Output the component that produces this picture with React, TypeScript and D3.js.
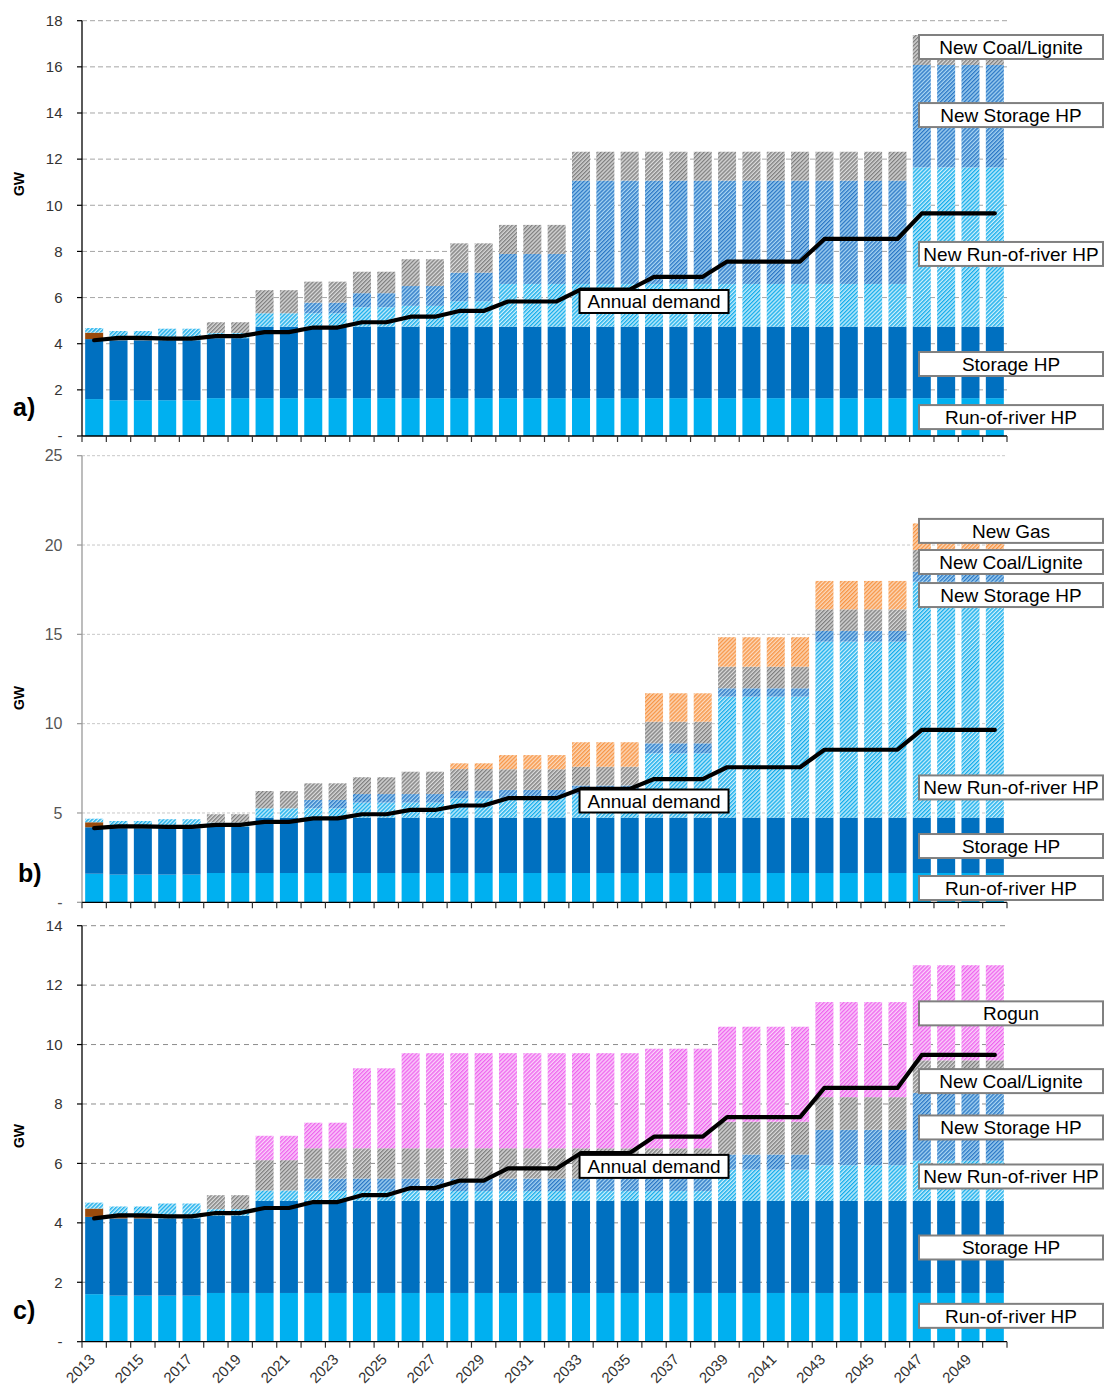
import React from 'react';
import * as d3 from 'd3';

// ---------- DATA ----------
const years = [2013, 2014, 2015, 2016, 2017, 2018, 2019, 2020, 2021, 2022, 2023, 2024, 2025, 2026, 2027, 2028, 2029, 2030, 2031, 2032, 2033, 2034, 2035, 2036, 2037, 2038, 2039, 2040, 2041, 2042, 2043, 2044, 2045, 2046, 2047, 2048, 2049, 2050];

const runOfRiver = [1.6, 1.55, 1.55, 1.55, 1.55, 1.64, 1.64, 1.64, 1.64, 1.64, 1.64, 1.64, 1.64, 1.64, 1.64, 1.64, 1.64, 1.64, 1.64, 1.64, 1.64, 1.64, 1.64, 1.64, 1.64, 1.64, 1.64, 1.64, 1.64, 1.64, 1.64, 1.64, 1.64, 1.64, 1.64, 1.64, 1.64, 1.64];
const storageHP = [2.6, 2.6, 2.6, 2.6, 2.6, 2.6, 2.6, 3.1, 3.1, 3.1, 3.1, 3.1, 3.1, 3.1, 3.1, 3.1, 3.1, 3.1, 3.1, 3.1, 3.1, 3.1, 3.1, 3.1, 3.1, 3.1, 3.1, 3.1, 3.1, 3.1, 3.1, 3.1, 3.1, 3.1, 3.1, 3.1, 3.1, 3.1];
const existingThermal = [0.28, 0.06, 0.06, 0, 0, 0, 0, 0, 0, 0, 0, 0, 0, 0, 0, 0, 0, 0, 0, 0, 0, 0, 0, 0, 0, 0, 0, 0, 0, 0, 0, 0, 0, 0, 0, 0, 0, 0];
const annualDemand = [4.15, 4.25, 4.25, 4.22, 4.22, 4.33, 4.33, 4.5, 4.5, 4.7, 4.7, 4.93, 4.93, 5.17, 5.17, 5.42, 5.42, 5.83, 5.83, 5.83, 6.35, 6.35, 6.35, 6.9, 6.9, 6.9, 7.56, 7.56, 7.56, 7.56, 8.54, 8.54, 8.54, 8.54, 9.65, 9.65, 9.65, 9.65];

// panel a
const newRoRA = [0.2, 0.34, 0.34, 0.5, 0.5, 0.22, 0.22, 0.58, 0.58, 0.58, 0.58, 0.84, 0.84, 0.9, 0.9, 1.1, 1.1, 1.85, 1.85, 1.85, 1.85, 1.85, 1.85, 1.85, 1.85, 1.85, 1.85, 1.85, 1.85, 1.85, 1.85, 1.85, 1.85, 1.85, 6.9, 6.9, 6.9, 6.9];
const newStorageA = [0, 0, 0, 0, 0, 0, 0, 0, 0, 0.46, 0.46, 0.61, 0.61, 0.86, 0.86, 1.24, 1.24, 1.3, 1.3, 1.3, 4.48, 4.48, 4.48, 4.48, 4.48, 4.48, 4.48, 4.48, 4.48, 4.48, 4.48, 4.48, 4.48, 4.48, 4.44, 4.44, 4.44, 4.44];
const newCoalA = [0, 0, 0, 0, 0, 0.47, 0.47, 1.0, 1.0, 0.91, 0.91, 0.93, 0.93, 1.16, 1.16, 1.27, 1.27, 1.26, 1.26, 1.26, 1.25, 1.25, 1.25, 1.25, 1.25, 1.25, 1.25, 1.25, 1.25, 1.25, 1.25, 1.25, 1.25, 1.25, 1.3, 1.3, 1.3, 1.3];

// panel b
const newRoRB = [0.2, 0.34, 0.34, 0.5, 0.5, 0.22, 0.22, 0.52, 0.52, 0.52, 0.52, 0.84, 0.84, 0.84, 0.84, 1.08, 1.08, 1.1, 1.1, 1.1, 1.3, 1.3, 1.3, 3.6, 3.6, 3.6, 6.77, 6.77, 6.77, 6.77, 9.85, 9.85, 9.85, 9.85, 13.2, 13.2, 13.2, 13.2];
const newStorageB = [0, 0, 0, 0, 0, 0, 0, 0, 0, 0.47, 0.47, 0.48, 0.48, 0.48, 0.48, 0.43, 0.43, 0.45, 0.45, 0.45, 0.5, 0.5, 0.5, 0.56, 0.56, 0.56, 0.47, 0.47, 0.47, 0.47, 0.6, 0.6, 0.6, 0.6, 0.56, 0.56, 0.56, 0.56];
const newCoalB = [0, 0, 0, 0, 0, 0.47, 0.47, 0.97, 0.97, 0.93, 0.93, 0.94, 0.94, 1.25, 1.25, 1.21, 1.21, 1.16, 1.16, 1.16, 1.05, 1.05, 1.05, 1.21, 1.21, 1.21, 1.21, 1.21, 1.21, 1.21, 1.21, 1.21, 1.21, 1.21, 1.22, 1.22, 1.22, 1.22];
const newGasB = [0, 0, 0, 0, 0, 0, 0, 0, 0, 0, 0, 0, 0, 0, 0, 0.32, 0.32, 0.79, 0.79, 0.79, 1.37, 1.37, 1.37, 1.59, 1.59, 1.59, 1.65, 1.65, 1.65, 1.65, 1.59, 1.59, 1.59, 1.59, 1.49, 1.49, 1.49, 1.49];

// panel c
const newRoRC = [0.2, 0.34, 0.34, 0.5, 0.5, 0.22, 0.22, 0.35, 0.35, 0.33, 0.33, 0.33, 0.33, 0.33, 0.33, 0.33, 0.33, 0.33, 0.33, 0.33, 0.33, 0.33, 0.33, 0.33, 0.33, 0.33, 1.05, 1.05, 1.05, 1.05, 1.2, 1.2, 1.2, 1.2, 1.35, 1.35, 1.35, 1.35];
const newStorageC = [0, 0, 0, 0, 0, 0, 0, 0, 0, 0.42, 0.42, 0.42, 0.42, 0.42, 0.42, 0.42, 0.42, 0.42, 0.42, 0.42, 0.42, 0.42, 0.42, 0.42, 0.42, 0.42, 0.51, 0.51, 0.51, 0.51, 1.19, 1.19, 1.19, 1.19, 2.28, 2.28, 2.28, 2.28];
const newCoalC = [0, 0, 0, 0, 0, 0.47, 0.47, 1.02, 1.02, 1.02, 1.02, 1.02, 1.02, 1.02, 1.02, 1.02, 1.02, 1.02, 1.02, 1.02, 1.02, 1.02, 1.02, 1.02, 1.02, 1.02, 1.1, 1.1, 1.1, 1.1, 1.1, 1.1, 1.1, 1.1, 1.1, 1.1, 1.1, 1.1];
const rogunC = [0, 0, 0, 0, 0, 0, 0, 0.82, 0.82, 0.86, 0.86, 2.69, 2.69, 3.2, 3.2, 3.2, 3.2, 3.2, 3.2, 3.2, 3.2, 3.2, 3.2, 3.35, 3.35, 3.35, 3.2, 3.2, 3.2, 3.2, 3.2, 3.2, 3.2, 3.2, 3.2, 3.2, 3.2, 3.2];

const ticksA = [0, 2, 4, 6, 8, 10, 12, 14, 16, 18];
const ticksB = [0, 5, 10, 15, 20, 25];
const ticksC = [0, 2, 4, 6, 8, 10, 12, 14];

const labelsA = [
  { text: 'New Coal/Lignite', v: 16.86 },
  { text: 'New Storage HP', v: 13.91 },
  { text: 'New Run-of-river HP', v: 7.89 },
  { text: 'Storage HP', v: 3.12 },
  { text: 'Run-of-river HP', v: 0.82 },
];
const labelsB = [
  { text: 'New Gas', v: 20.79 },
  { text: 'New Coal/Lignite', v: 19.05 },
  { text: 'New Storage HP', v: 17.2 },
  { text: 'New Run-of-river HP', v: 6.43 },
  { text: 'Storage HP', v: 3.15 },
  { text: 'Run-of-river HP', v: 0.8 },
];
const labelsC = [
  { text: 'Rogun', v: 11.05 },
  { text: 'New Coal/Lignite', v: 8.77 },
  { text: 'New Storage HP', v: 7.21 },
  { text: 'New Run-of-river HP', v: 5.56 },
  { text: 'Storage HP', v: 3.17 },
  { text: 'Run-of-river HP', v: 0.87 },
];
const demandLabelValues = [5.83, 5.67, 5.9];
const demandLabelYear = 2036;

// ---------- STYLE / LAYOUT ----------
const FONT = "'Liberation Sans', Arial, sans-serif";
const X0 = 82;
const X1 = 1007;

const patterns = [
  { id: 'pNewRoR', stripe: '#16ADEB', bg: '#CDEFFC' },
  { id: 'pNewSto', stripe: '#2C78C6', bg: '#A6D4F2' },
  { id: 'pCoal', stripe: '#808080', bg: '#DADADA' },
  { id: 'pGas', stripe: '#F79646', bg: '#FCD9BC' },
  { id: 'pRogun', stripe: '#EE66EE', bg: '#FAD2FA' },
];

const fills: Record<string, string> = {
  ror: '#00B0F0',
  sto: '#0070C0',
  thermal: '#9A4A0C',
  newRoR: 'url(#pNewRoR)',
  newSto: 'url(#pNewSto)',
  coal: 'url(#pCoal)',
  gas: 'url(#pGas)',
  rogun: 'url(#pRogun)',
};

type Series = { key: string; values: number[] };
type PanelCfg = {
  letter: string;
  yTop: number;
  y0: number;
  yMax: number;
  ticks: number[];
  series: Series[];
  labels: { text: string; v: number }[];
  demandLabelV: number;
  gridColor: string;
  gridDash: string;
  yAxisColor: string;
  tickTextColor: string;
  tickFont: number;
  letterPos: [number, number];
  gwY: number;
  showYears: boolean;
};

const panels: PanelCfg[] = [
  {
    letter: 'a)', yTop: 20.7, y0: 436, yMax: 18, ticks: ticksA,
    series: [
      { key: 'ror', values: runOfRiver }, { key: 'sto', values: storageHP }, { key: 'thermal', values: existingThermal },
      { key: 'newRoR', values: newRoRA }, { key: 'newSto', values: newStorageA }, { key: 'coal', values: newCoalA },
    ],
    labels: labelsA, demandLabelV: demandLabelValues[0],
    gridColor: '#A6A6A6', gridDash: '5,3', yAxisColor: '#000', tickTextColor: '#333', tickFont: 15,
    letterPos: [13, 416], gwY: 184, showYears: false,
  },
  {
    letter: 'b)', yTop: 455.7, y0: 902.3, yMax: 25, ticks: ticksB,
    series: [
      { key: 'ror', values: runOfRiver }, { key: 'sto', values: storageHP }, { key: 'thermal', values: existingThermal },
      { key: 'newRoR', values: newRoRB }, { key: 'newSto', values: newStorageB }, { key: 'coal', values: newCoalB },
      { key: 'gas', values: newGasB },
    ],
    labels: labelsB, demandLabelV: demandLabelValues[1],
    gridColor: '#C8C8C8', gridDash: '3,2', yAxisColor: '#999', tickTextColor: '#555', tickFont: 16,
    letterPos: [18, 882], gwY: 698, showYears: false,
  },
  {
    letter: 'c)', yTop: 925.7, y0: 1341.7, yMax: 14, ticks: ticksC,
    series: [
      { key: 'ror', values: runOfRiver }, { key: 'sto', values: storageHP }, { key: 'thermal', values: existingThermal },
      { key: 'newRoR', values: newRoRC }, { key: 'newSto', values: newStorageC }, { key: 'coal', values: newCoalC },
      { key: 'rogun', values: rogunC },
    ],
    labels: labelsC, demandLabelV: demandLabelValues[2],
    gridColor: '#8C8C8C', gridDash: '5,4', yAxisColor: '#000', tickTextColor: '#333', tickFont: 15,
    letterPos: [13, 1319], gwY: 1136, showYears: true,
  },
];

function Panel({ cfg }: { cfg: PanelCfg }) {
  const x = d3.scaleBand<number>().domain(years).range([X0, X1]).paddingInner(0.26).paddingOuter(0.13);
  const y = d3.scaleLinear().domain([0, cfg.yMax]).range([cfg.y0, cfg.yTop]);
  const keys = cfg.series.map((s) => s.key);
  const rows = years.map((yr, i) => {
    const r: Record<string, number> = { year: yr };
    cfg.series.forEach((s) => (r[s.key] = s.values[i]));
    return r;
  });
  const stacked = d3.stack<Record<string, number>>().keys(keys)(rows);
  const bw = x.bandwidth();
  const half = (x.step() - bw) / 2;
  const cx = (yr: number) => (x(yr) as number) + bw / 2;
  const line = d3.line<number>().x((_, i) => cx(years[i])).y((d) => y(d));
  const boundaries = years.map((yr) => (x(yr) as number) - half).concat([X1]);

  return (
    <g>
      {cfg.ticks.filter((t) => t > 0).map((t) => (
        <line key={'g' + t} x1={X0} x2={X1} y1={y(t)} y2={y(t)} stroke={cfg.gridColor} strokeDasharray={cfg.gridDash} strokeWidth={1} />
      ))}
      {stacked.map((layer) => (
        <g key={layer.key} fill={fills[layer.key]}>
          {layer.map((d, i) =>
            d[1] - d[0] > 0 ? (
              <rect key={i} x={x(years[i])} width={bw} y={y(d[1])} height={y(d[0]) - y(d[1])} />
            ) : null
          )}
        </g>
      ))}
      <line x1={X0} x2={X0} y1={cfg.yTop} y2={cfg.y0} stroke={cfg.yAxisColor} strokeWidth={1.3} />
      {cfg.ticks.map((t) => (
        <g key={'t' + t}>
          <line x1={X0 - 5} x2={X0} y1={y(t)} y2={y(t)} stroke={cfg.yAxisColor} strokeWidth={1.2} />
          <text x={62.5} y={y(t)} dy="0.35em" textAnchor="end" fontSize={cfg.tickFont} fill={cfg.tickTextColor} fontFamily={FONT}>
            {t === 0 ? '-' : t}
          </text>
        </g>
      ))}
      <line x1={X0} x2={X1} y1={cfg.y0} y2={cfg.y0} stroke="#000" strokeWidth={1.3} />
      {boundaries.map((b, i) => (
        <line key={'xb' + i} x1={b} x2={b} y1={cfg.y0} y2={cfg.y0 + 6} stroke="#333" strokeWidth={1.2} />
      ))}
      {cfg.showYears &&
        years.filter((_, i) => i % 2 === 0).map((yr) => (
          <text key={'yl' + yr} transform={`translate(${cx(yr) - 2},${cfg.y0 + 15}) rotate(-45)`} textAnchor="end" dy="0.35em" fontSize={15} fill="#333" fontFamily={FONT}>
            {yr}
          </text>
        ))}
      <path d={line(annualDemand) as string} fill="none" stroke="#000" strokeWidth={4.2} strokeLinejoin="round" strokeLinecap="round" />
      <rect x={cx(demandLabelYear) - 74.5} y={y(cfg.demandLabelV) - 11.5} width={149} height={23} fill="#fff" stroke="#000" strokeWidth={2} />
      <text x={cx(demandLabelYear)} y={y(cfg.demandLabelV)} dy="0.36em" textAnchor="middle" fontSize={19} fontFamily={FONT} fill="#000">
        Annual demand
      </text>
      {cfg.labels.map((l) => (
        <g key={l.text}>
          <rect x={919} y={y(l.v) - 12} width={184} height={24} fill="#fff" stroke="#808080" strokeWidth={2} />
          <text x={1011} y={y(l.v)} dy="0.36em" textAnchor="middle" fontSize={19} fontFamily={FONT} fill="#000">
            {l.text}
          </text>
        </g>
      ))}
      <text transform={`translate(19,${cfg.gwY}) rotate(-90)`} textAnchor="middle" dy="0.35em" fontSize={14} fontWeight="bold" fontFamily={FONT} fill="#000">
        GW
      </text>
      <text x={cfg.letterPos[0]} y={cfg.letterPos[1]} fontSize={25} fontWeight="bold" fontFamily={FONT} fill="#000">
        {cfg.letter}
      </text>
    </g>
  );
}

export default function App() {
  return (
    <div style={{ position: 'absolute', left: 0, top: 0 }}>
      <svg width={1104} height={1389} style={{ display: 'block', background: '#fff' }}>
        <defs>
          {patterns.map((p) => (
            <pattern key={p.id} id={p.id} patternUnits="userSpaceOnUse" width={2.8} height={2.8} patternTransform="rotate(45)">
              <rect width={2.8} height={2.8} fill={p.bg} />
              <rect width={1.4} height={2.8} fill={p.stripe} />
            </pattern>
          ))}
        </defs>
        {panels.map((p) => (
          <Panel key={p.letter} cfg={p} />
        ))}
      </svg>
    </div>
  );
}
